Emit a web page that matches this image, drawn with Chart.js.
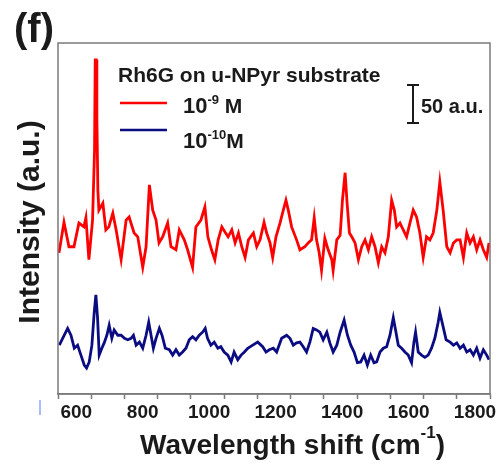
<!DOCTYPE html>
<html>
<head>
<meta charset="utf-8">
<script src="https://cdn.jsdelivr.net/npm/chart.js@4"></script>
<style>
  html, body { margin: 0; padding: 0; background: #fff; }
  canvas { display: block; }
</style>
</head>
<body>
<canvas id="ramanChart" width="502" height="464"></canvas>
<script>
// Raman shift (cm-1) and intensity (a.u.)
const redShift = [503, 518, 533, 548, 563, 578, 584, 593, 604, 610, 612, 615, 617, 620, 623, 635, 644, 653, 665, 675, 690, 705, 714, 729, 740, 755, 765, 775, 785, 795, 804, 815, 830, 840, 855, 865, 880, 890, 905, 915, 930, 942, 951, 962, 972, 982, 993, 1003, 1012, 1023, 1033, 1043, 1053, 1063, 1073, 1088, 1098, 1108, 1120, 1128, 1138, 1146, 1156, 1168, 1178, 1186, 1193, 1203, 1218, 1228, 1243, 1253, 1263, 1271, 1278, 1286, 1293, 1303, 1313, 1324, 1328, 1339, 1349, 1356, 1364, 1370, 1377, 1384, 1394, 1404, 1414, 1424, 1434, 1444, 1454, 1464, 1474, 1484, 1494, 1504, 1512, 1519, 1529, 1539, 1549, 1559, 1569, 1579, 1589, 1599, 1609, 1619, 1629, 1640, 1649, 1659, 1670, 1680, 1690, 1700, 1710, 1720, 1730, 1740, 1750, 1760, 1770, 1780, 1790, 1797];
const redIntensity = [185, 225, 193, 193, 224, 219, 231, 176, 228, 320, 438, 438, 363, 267, 241, 250, 215, 219, 237, 215, 176, 228, 232, 211, 206, 166, 193, 274, 241, 228, 198, 206, 224, 193, 189, 215, 202, 189, 166, 219, 228, 245, 206, 189, 176, 202, 219, 212, 206, 215, 198, 211, 193, 179, 202, 211, 193, 202, 225, 211, 198, 179, 206, 224, 241, 254, 241, 219, 202, 189, 193, 198, 202, 231, 202, 185, 162, 204, 189, 176, 162, 202, 208, 254, 290, 250, 211, 206, 198, 176, 193, 202, 189, 206, 193, 172, 193, 185, 206, 254, 241, 219, 224, 215, 206, 224, 241, 232, 211, 179, 206, 202, 211, 241, 278, 241, 193, 185, 198, 202, 202, 179, 211, 198, 206, 189, 202, 189, 179, 198];

const blueShift = [504, 514, 529, 539, 549, 559, 569, 579, 586, 594, 602, 609, 614, 619, 624, 632, 639, 647, 654, 662, 669, 680, 690, 700, 710, 720, 727, 735, 745, 755, 765, 773, 780, 787, 795, 805, 813, 823, 835, 845, 855, 865, 875, 885, 895, 905, 915, 925, 935, 943, 950, 960, 970, 981, 990, 1000, 1011, 1021, 1030, 1041, 1051, 1061, 1071, 1086, 1101, 1116, 1126, 1136, 1148, 1158, 1173, 1188, 1198, 1208, 1218, 1228, 1238, 1248, 1258, 1268, 1278, 1288, 1298, 1309, 1318, 1328, 1339, 1349, 1361, 1371, 1381, 1391, 1401, 1411, 1421, 1431, 1441, 1451, 1459, 1469, 1479, 1489, 1499, 1509, 1517, 1524, 1534, 1544, 1554, 1564, 1571, 1576, 1584, 1594, 1604, 1614, 1624, 1634, 1644, 1649, 1658, 1668, 1680, 1690, 1700, 1710, 1720, 1730, 1740, 1750, 1760, 1770, 1780, 1790, 1797];
const blueIntensity = [64, 73, 86, 77, 60, 64, 51, 38, 34, 42, 64, 107, 130, 100, 51, 60, 67, 77, 90, 73, 84, 77, 77, 73, 71, 73, 77, 64, 68, 60, 77, 94, 77, 60, 73, 86, 77, 60, 58, 51, 58, 51, 55, 60, 71, 75, 71, 77, 81, 86, 73, 64, 68, 60, 62, 55, 51, 42, 55, 45, 51, 55, 60, 64, 68, 62, 55, 58, 60, 55, 73, 77, 73, 64, 67, 68, 62, 55, 68, 86, 84, 81, 71, 81, 67, 55, 64, 81, 97, 77, 64, 55, 41, 42, 51, 38, 51, 41, 42, 55, 60, 62, 77, 100, 81, 64, 60, 55, 51, 41, 68, 81, 55, 51, 48, 51, 60, 73, 94, 107, 90, 71, 68, 64, 67, 60, 64, 55, 58, 51, 60, 47, 58, 51, 45];

const xMin = 500, xMax = 1800;
const yMin = 0, yMax = 460;
const scaleBar = [355, 405]; // 50 a.u.

const FONT = "'Liberation Sans', Arial, sans-serif";
const INK = '#1a1a1a';

// draws text made of pieces, each with its own size and vertical shift
function drawPieces(ctx, pieces, x, baseline) {
  let cx = x;
  pieces.forEach(([txt, size, dy]) => {
    ctx.font = 'bold ' + size + 'px ' + FONT;
    ctx.fillText(txt, cx, baseline + dy);
    cx += ctx.measureText(txt).width;
  });
}

const annotations = {
  id: 'annotations',
  afterDraw(chart) {
    const { ctx, chartArea: a, scales: { y } } = chart;
    ctx.save();

    // frame
    ctx.strokeStyle = '#7a7a7a';
    ctx.lineWidth = 1.5;
    ctx.strokeRect(a.left, a.top, a.right - a.left, a.bottom - a.top);

    ctx.fillStyle = INK;
    ctx.textBaseline = 'alphabetic';
    ctx.textAlign = 'left';

    // panel letter
    ctx.font = 'bold 40px ' + FONT;
    ctx.fillText('(f)', 14, 42);

    // legend
    ctx.font = 'bold 21px ' + FONT;
    ctx.fillText('Rh6G on u-NPyr substrate', 118, 82);

    ctx.lineWidth = 2.5;
    ctx.strokeStyle = '#ff0000';
    ctx.beginPath(); ctx.moveTo(120, 103); ctx.lineTo(167, 103); ctx.stroke();
    ctx.strokeStyle = '#0c0c82';
    ctx.beginPath(); ctx.moveTo(120, 130); ctx.lineTo(167, 130); ctx.stroke();

    drawPieces(ctx, [['10', 22, 0], ['-9', 13, -9], [' M', 21, 0]], 183, 113);
    drawPieces(ctx, [['10', 22, 0], ['-10', 13, -9], ['M', 21, 0]], 183, 148);

    // 50 a.u. scale bar
    const yTop = y.getPixelForValue(scaleBar[1]);
    const yBot = y.getPixelForValue(scaleBar[0]);
    ctx.strokeStyle = INK;
    ctx.lineWidth = 2;
    ctx.beginPath();
    ctx.moveTo(413, yTop); ctx.lineTo(413, yBot);
    ctx.moveTo(407, yTop); ctx.lineTo(419, yTop);
    ctx.moveTo(407, yBot); ctx.lineTo(419, yBot);
    ctx.stroke();
    ctx.font = 'bold 20px ' + FONT;
    ctx.fillText('50 a.u.', 421, 113);

    // axis titles
    drawPieces(ctx, [['Wavelength shift (cm', 28, 0], ['-1', 17, -16], [')', 28, 0]], 140, 454);

    ctx.save();
    ctx.translate(31, 222);
    ctx.rotate(-Math.PI / 2);
    ctx.textAlign = 'center';
    ctx.textBaseline = 'middle';
    ctx.font = 'bold 30px ' + FONT;
    ctx.fillText('Intensity (a.u.)', 0, 0);
    ctx.restore();

    // small blue mark left of the axis
    ctx.strokeStyle = '#8fa2ff';
    ctx.lineWidth = 1.5;
    ctx.beginPath(); ctx.moveTo(40, 400); ctx.lineTo(40, 415); ctx.stroke();

    ctx.restore();
  }
};

const ctx = document.getElementById('ramanChart').getContext('2d');
new Chart(ctx, {
  type: 'line',
  data: {
    datasets: [
      {
        label: '10^-9 M',
        data: redShift.map((s, i) => ({ x: s, y: redIntensity[i] })),
        borderColor: '#ff0000',
        borderWidth: 2.8,
        pointRadius: 0,
        tension: 0
      },
      {
        label: '10^-10 M',
        data: blueShift.map((s, i) => ({ x: s, y: blueIntensity[i] })),
        borderColor: '#0c0c82',
        borderWidth: 2.8,
        pointRadius: 0,
        tension: 0
      }
    ]
  },
  options: {
    responsive: false,
    animation: false,
    layout: { padding: { left: 58, right: 12, top: 43, bottom: 40 } },
    plugins: { legend: { display: false }, tooltip: { enabled: false } },
    scales: {
      x: {
        type: 'linear',
        min: xMin,
        max: xMax,
        afterFit: (s) => { s.height = 30; s.paddingLeft = 0; s.paddingRight = 0; },
        ticks: {
          stepSize: 100,
          autoSkip: false,
          maxRotation: 0,
          labelOffset: -15,
          padding: 2,
          color: INK,
          font: { family: FONT, size: 19, weight: 'bold' },
          callback: (v) => (v >= 600 && v % 200 === 0) ? String(v) : ''
        },
        grid: { drawOnChartArea: false, tickLength: 5, tickColor: '#7a7a7a', tickWidth: 1.5 },
        border: { color: '#7a7a7a', width: 1.5 }
      },
      y: { display: false, min: yMin, max: yMax }
    }
  },
  plugins: [annotations]
});
</script>
</body>
</html>
